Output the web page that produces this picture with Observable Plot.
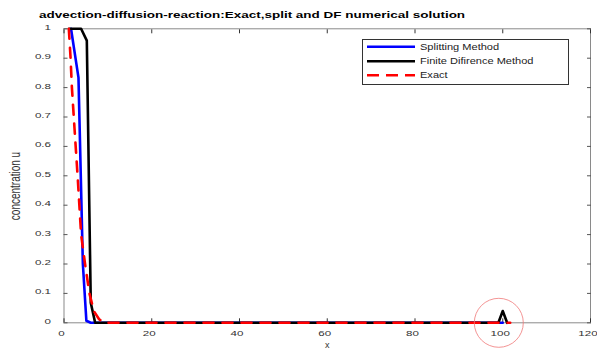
<!DOCTYPE html>
<html><head><meta charset="utf-8">
<script src="https://cdn.jsdelivr.net/npm/d3@7"></script>
<script src="https://cdn.jsdelivr.net/npm/@observablehq/plot@0.6"></script>
<style>
body{margin:0;background:#fff;}
#wrap{position:relative;width:597px;height:349px;overflow:hidden;}
</style></head><body>
<div id="wrap"></div>
<script>
const titleText = "advection-diffusion-reaction:Exact,split and DF numerical solution";
const xLabel = "x";
const yLabel = "concentration u";
const seriesNames = ["Splitting Method", "Finite Difirence Method", "Exact"];
const seriesColors = ["#0000ff", "#000000", "#ff0000"];

const splitX = [1.6, 3.3, 4.3, 5.1, 6.1, 100];
const splitY = [1, 0.834, 0.2, 0.007, 0, 0];

const fdX = [1.2, 3.9, 5.2, 6.1, 7.1, 99.0, 100.0, 101.0];
const fdY = [1, 1, 0.96, 0.068, 0, 0, 0.04, 0];

const exactX = [1.1, 1.5, 1.8, 2.4, 3.1, 3.9, 4.8, 5.8, 6.8, 8.0, 9.2, 101.7];
const exactY = [1, 0.9, 0.8, 0.66, 0.5, 0.3, 0.2, 0.1, 0.04, 0.012, 0, 0];

const circleX = [99.1];
const circleY = [0];

const xTicks = [0, 20, 40, 60, 80, 100, 120];
const yTicks = [0, 0.1, 0.2, 0.3, 0.4, 0.5, 0.6, 0.7, 0.8, 0.9, 1];

const toPts = (xs, ys) => xs.map((x, i) => ({x, y: ys[i]}));
const split = toPts(splitX, splitY);
const fd = toPts(fdX, fdY);
const exact = toPts(exactX, exactY);
const circle = toPts(circleX, circleY);

const font = "'Liberation Sans', Arial, sans-serif";
const fmt = d3.format("~g");

const svg = Plot.plot({
  width: 597,
  height: 349,
  marginLeft: 63.5,
  marginRight: 7,
  marginTop: 28.3,
  marginBottom: 26.7,
  style: {fontFamily: font, fontSize: "8px", background: "#fff", overflow: "visible"},
  x: {domain: [0, 120]},
  y: {domain: [0, 1]},
  marks: [
    Plot.frame({stroke: "#8a8a8a", strokeWidth: 1}),
    Plot.axisX({anchor: "bottom", ticks: xTicks, tickSize: -4, tickFormat: () => "", stroke: "#333", label: null}),
    Plot.axisX({anchor: "top", ticks: xTicks, tickSize: -4, tickFormat: () => "", stroke: "#333", label: null}),
    Plot.axisY({anchor: "left", ticks: yTicks, tickSize: -4, tickFormat: () => "", stroke: "#555", label: null}),
    Plot.axisY({anchor: "right", ticks: yTicks, tickSize: -4, tickFormat: () => "", stroke: "#555", label: null}),
    Plot.axisX({anchor: "bottom", ticks: xTicks, tickSize: 0, tickPadding: 8, tickFormat: fmt, fill: "#333", fontSize: 8, dx: -2.5, label: null}),
    Plot.axisY({anchor: "left", ticks: yTicks, tickSize: 0, tickPadding: 13, tickFormat: fmt, fill: "#333", fontSize: 8, dy: -1.5, label: null}),
    Plot.line(split, {x: "x", y: "y", stroke: seriesColors[0], strokeWidth: 2.6}),
    Plot.line(fd, {x: "x", y: "y", stroke: seriesColors[1], strokeWidth: 2.6}),
    Plot.line(exact, {x: "x", y: "y", stroke: seriesColors[2], strokeWidth: 2.6, strokeDasharray: "10,9"}),
    Plot.dot(circle, {x: "x", y: "y", r: 24.5, stroke: "#f07878", strokeWidth: 0.8, fill: "none"}),
    Plot.text([xLabel], {text: d => d, frameAnchor: "bottom", dy: 25, fontSize: 9, fill: "#333"})
  ]
});

const s = d3.select(svg);
s.selectAll('g[aria-label="x-axis tick label"] text, g[aria-label="y-axis tick label"] text')
  .attr("transform", function() { return (this.getAttribute("transform") || "") + " scale(1.45,1)"; });

// y-axis label
s.append("text")
  .attr("transform", "translate(15,186) scale(1.4,1) rotate(-90)")
  .attr("text-anchor", "middle").attr("dy", "0.35em")
  .attr("font-family", font).attr("font-size", 10).attr("fill", "#333")
  .text(yLabel);

// title
s.append("text")
  .attr("transform", "translate(39,18) scale(1.42,1)")
  .attr("text-anchor", "start")
  .attr("font-family", font).attr("font-size", 9.5).attr("font-weight", "bold")
  .attr("fill", "#000")
  .text(titleText);

// legend
const lg = s.append("g").attr("text-anchor", "start");
lg.append("rect").attr("x", 362.5).attr("y", 39.5).attr("width", 206).attr("height", 45)
  .attr("fill", "#fff").attr("stroke", "#333").attr("stroke-width", 1);
const rowsY = [46.7, 61.2, 75.2];
seriesNames.forEach((name, i) => {
  lg.append("line").attr("x1", 367).attr("x2", 415).attr("y1", rowsY[i]).attr("y2", rowsY[i])
    .attr("stroke", seriesColors[i]).attr("stroke-width", 2.6)
    .attr("stroke-dasharray", i === 2 ? "12,7" : null);
  lg.append("text").attr("transform", `translate(420,${rowsY[i] + 3}) scale(1.3,1)`)
    .attr("text-anchor", "start")
    .attr("font-family", font).attr("font-size", 8.5).attr("fill", "#222")
    .text(name);
});

document.getElementById("wrap").appendChild(svg);
</script>
</body></html>
